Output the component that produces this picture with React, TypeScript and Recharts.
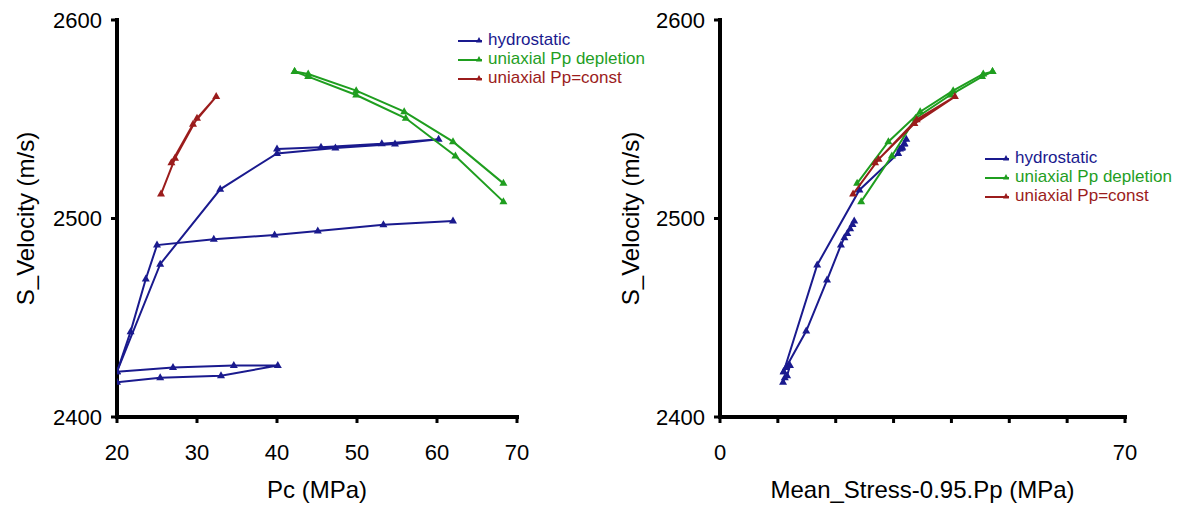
import { ScatterChart, Scatter, XAxis, YAxis, Label } from "recharts";

const BLUE = "#1a1a8e";
const GREEN = "#1f9e1f";
const RED = "#9b1c1c";
const FONT = "'Liberation Sans', Arial, Helvetica, sans-serif";

const NAMES = ["hydrostatic", "uniaxial Pp depletion", "uniaxial Pp=const"];
const COLORS = [BLUE, GREEN, RED];

const Y_TICKS = [2400, 2500, 2600];
const LEFT_X_TICKS = [20, 30, 40, 50, 60, 70];
const RIGHT_X_TICKS = [0, 10, 20, 30, 40, 50, 60, 70];
const RIGHT_X_LABELS = [0, 70];

// left panel: Pc (MPa) vs S velocity
const hydroLeftA = [
  [20, 2417.5], [25.4, 2419.8], [33, 2420.8], [40.1, 2425.9], [34.6, 2425.9], [27, 2424.9], [20, 2422.8],
  [21.7, 2443], [23.6, 2469.5], [25, 2486.6], [32.1, 2489.6], [39.7, 2491.7], [45.1, 2493.7], [53.3, 2496.9], [62, 2498.7],
];
const hydroLeftB = [
  [20, 2422.8], [25.4, 2477], [32.9, 2514.7], [40, 2532.8], [47.3, 2535.5], [54.75, 2537.5], [60.2, 2539.9],
  [53.1, 2537.6], [45.5, 2535.9], [40, 2535],
];
const depLeftA = [[42.2, 2574], [43.9, 2572.8], [49.9, 2564.4], [55.9, 2553.8], [62, 2538.7], [68.3, 2517.7]];
const depLeftB = [[42.2, 2574], [43.9, 2571.5], [49.9, 2562.2], [56.1, 2550.5], [62.3, 2531.5], [68.3, 2508.5]];
const constLeft = [[25.5, 2512.3], [27.25, 2530.3], [30, 2550.5], [32.4, 2561.4], [29.5, 2547.5], [26.8, 2528.1]];

// right panel: Mean_Stress-0.95.Pp vs S velocity
const hydroRightA = [
  [10.9, 2417.5], [11.2, 2419.8], [11.6, 2420.8], [12.1, 2425.9], [11.8, 2425.9], [11.4, 2424.9], [11, 2422.8],
  [14.9, 2443.3], [18.5, 2469], [20.9, 2486.6], [21.5, 2490.3], [22, 2492.5], [22.5, 2494.8], [22.9, 2497], [23.2, 2498.8],
];
const hydroRightB = [
  [11, 2422.8], [16.8, 2476.6], [24.1, 2514.4], [30.8, 2532.8], [31.4, 2535.4], [31.8, 2537.5], [32.2, 2539.9],
  [31.9, 2537.6], [31.5, 2535.9], [31.1, 2535],
];
const depRightA = [[47.1, 2574], [45.5, 2572.8], [40.3, 2564.4], [34.6, 2553.8], [29.1, 2538.7], [23.7, 2517.7]];
const depRightB = [[47.1, 2574], [45.3, 2571.5], [39.8, 2562.2], [33.8, 2550.5], [29.7, 2531.5], [24.4, 2508.5]];
const constRight = [[23, 2512.3], [27.4, 2529.8], [34, 2549.8], [40.6, 2561.4], [33.6, 2547.8], [26.8, 2528.1]];

const pts = (a: number[][]) => a.map(([x, y]) => ({ x, y }));

const triangle = (color: string) => (props: any) => {
  const { cx, cy } = props;
  if (cx == null || cy == null) return <g />;
  return <polygon points={`${cx},${cy - 4.5} ${cx - 4},${cy + 2.5} ${cx + 4},${cy + 2.5}`} fill={color} />;
};

const axisLine = { stroke: "#000", strokeWidth: 4, strokeLinecap: "square" as const };
const tickLine = { stroke: "#000", strokeWidth: 3 };
const tickStyle = { fill: "#000", fontSize: 22, fontFamily: FONT };

type Series = { data: number[][]; color: string };

const Panel = ({ left, yWidth, rightMargin, xDomain, xTicks, xLabels, xTitle, yTitleX, series }: any) => (
  <div style={{ position: "absolute", left, top: 0 }}>
    <ScatterChart width={580} height={506} margin={{ top: 20, right: rightMargin, bottom: 0, left: 0 }}>
      <XAxis
        type="number"
        dataKey="x"
        domain={xDomain}
        ticks={xTicks}
        interval={0}
        allowDataOverflow
        tickFormatter={(v: number) => (xLabels.includes(v) ? String(v) : "")}
        height={89}
        tickSize={6}
        tickMargin={21}
        axisLine={axisLine}
        tickLine={tickLine}
        tick={tickStyle}
      >
        <Label value={xTitle} position="insideBottom" offset={8} fontSize={24} fill="#000" fontFamily={FONT} />
      </XAxis>
      <YAxis
        type="number"
        dataKey="y"
        domain={[2400, 2600]}
        ticks={Y_TICKS}
        interval={0}
        allowDataOverflow
        width={yWidth}
        tickSize={6}
        tickMargin={9}
        axisLine={axisLine}
        tickLine={tickLine}
        tick={tickStyle}
      >
        <Label
          value="S_Velocity (m/s)"
          angle={-90}
          position="insideLeft"
          offset={yTitleX}
          fontSize={24}
          fill="#000"
          fontFamily={FONT}
          style={{ textAnchor: "middle" }}
        />
      </YAxis>
      {series.map((s: Series, i: number) => (
        <Scatter
          key={i}
          data={pts(s.data)}
          fill={s.color}
          line={{ stroke: s.color, strokeWidth: 2 }}
          shape={triangle(s.color)}
          isAnimationActive={false}
        />
      ))}
    </ScatterChart>
  </div>
);

const Legend = ({ left, top }: { left: number; top: number }) => (
  <div style={{ position: "absolute", left, top, fontFamily: FONT, fontSize: 17, lineHeight: "19px" }}>
    {NAMES.map((name, i) => (
      <div key={i} style={{ display: "flex", alignItems: "center", color: COLORS[i], whiteSpace: "nowrap" }}>
        <svg width={26} height={10}>
          <line x1={0} y1={6} x2={24} y2={6} stroke={COLORS[i]} strokeWidth={2} />
          <polygon points="21,2 18,7.5 24,7.5" fill={COLORS[i]} />
        </svg>
        <span style={{ marginLeft: 4 }}>{name}</span>
      </div>
    ))}
  </div>
);

export default function App() {
  const leftSeries: Series[] = [
    { data: hydroLeftA, color: BLUE },
    { data: hydroLeftB, color: BLUE },
    { data: depLeftA, color: GREEN },
    { data: depLeftB, color: GREEN },
    { data: constLeft, color: RED },
  ];
  const rightSeries: Series[] = [
    { data: hydroRightA, color: BLUE },
    { data: hydroRightB, color: BLUE },
    { data: depRightA, color: GREEN },
    { data: depRightB, color: GREEN },
    { data: constRight, color: RED },
  ];
  return (
    <div style={{ position: "absolute", left: 0, top: 0, width: 1180, height: 506, background: "#fff" }}>
      <Panel
        left={0}
        yWidth={117}
        rightMargin={63}
        xDomain={[20, 70]}
        xTicks={LEFT_X_TICKS}
        xLabels={LEFT_X_TICKS}
        xTitle="Pc (MPa)"
        yTitleX={25}
        series={leftSeries}
      />
      <Panel
        left={600}
        yWidth={120}
        rightMargin={55}
        xDomain={[0, 70]}
        xTicks={RIGHT_X_TICKS}
        xLabels={RIGHT_X_LABELS}
        xTitle="Mean_Stress-0.95.Pp (MPa)"
        yTitleX={30}
        series={rightSeries}
      />
      <Legend left={458} top={30} />
      <Legend left={985} top={148} />
    </div>
  );
}
